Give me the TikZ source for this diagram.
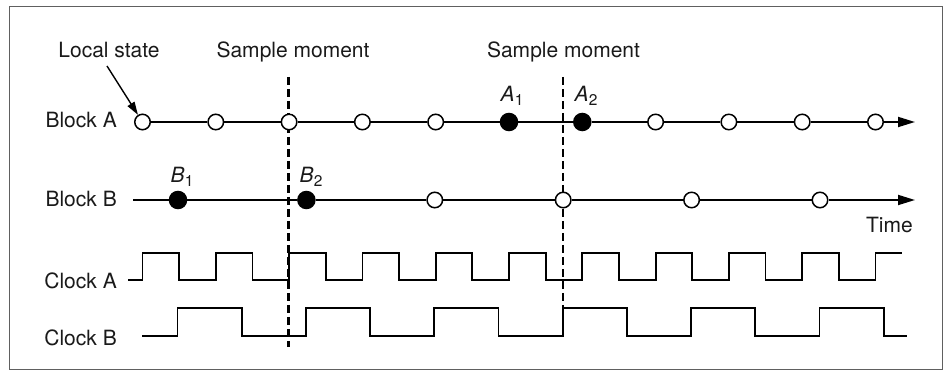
\documentclass[tikz,border=0pt]{standalone}
\usepackage{fontspec}
\setmainfont{TeX Gyre Heros}
\usetikzlibrary{arrows.meta}
\definecolor{inkgray}{HTML}{1A1A1A}
\definecolor{framegray}{HTML}{606060}
% italic event name with an upright, lowered index
\newcommand{\evname}[2]{\textit{#1}\kern0.3pt\raisebox{-4pt}{\fontsize{15.5}{16}\selectfont #2}}
\begin{document}
\begin{tikzpicture}[x=1pt,y=-1pt,
  lbl/.style={inner sep=0pt, font=\fontsize{21}{25}\selectfont, text=inkgray},
  evt/.style={circle, draw=black, line width=1.5pt, fill=white, minimum size=15.5pt, inner sep=0pt},
  evtfull/.style={evt, fill=black, minimum size=17pt},
  timeline/.style={line width=1.8pt},
  sample/.style={line width=2.6pt, dash pattern=on 8pt off 4pt},
  wave/.style={line width=1.8pt, line join=miter},
  tip/.style={-{Triangle[length=17pt,width=10pt]}},
  pointer/.style={line width=1.4pt, -{Triangle[length=13pt,width=8pt]}}
]
\useasboundingbox (0,0) rectangle (945,371);
\fill[white] (0,0) rectangle (945,371);
\draw[framegray, line width=1pt] (9,7) rectangle (942,369);

% sampling instants
\coordinate (s1top) at (288.5,77);
\coordinate (s1bot) at (288.5,347);
\coordinate (s2top) at (563,77);
\coordinate (s2bot) at (563,339);
\draw[sample] (s1top) -- (s1bot);
\draw[sample] (s2top) -- (s2bot);
\node[lbl, anchor=base] (smp1) at (293,58) {Sample moment};
\node[lbl, anchor=base] (smp2) at (563.5,58) {Sample moment};

% block A events
\foreach \k/\s in {0/evt,1/evt,2/evt,3/evt,4/evt,5/evtfull,6/evtfull,7/evt,8/evt,9/evt,10/evt}
  \node[\s] (a\k) at ({142.5+73.3*\k},122) {};
\coordinate (aend) at (915,122);
\foreach \k [evaluate=\k as \n using int(\k+1)] in {0,...,9}
  \draw[timeline] (a\k) -- (a\n);
\draw[timeline, tip] (a10) -- (aend);

% block B events
\coordinate (bstart) at (133,200);
\foreach \k/\s in {0/evtfull,1/evtfull,2/evt,3/evt,4/evt,5/evt}
  \node[\s] (b\k) at ({178+128.4*\k},200) {};
\coordinate (bend) at (915,200);
\draw[timeline] (bstart) -- (b0);
\foreach \k [evaluate=\k as \n using int(\k+1)] in {0,...,4}
  \draw[timeline] (b\k) -- (b\n);
\draw[timeline, tip] (b5) -- (bend);

% row labels
\node[lbl, anchor=base east] (rowa) at (117,128) {Block A};
\node[lbl, anchor=base east] (rowb) at (117,207) {Block B};
\node[lbl, anchor=base east] (rowca) at (117,289) {Clock A};
\node[lbl, anchor=base east] (rowcb) at (117,345) {Clock B};
\node[lbl, anchor=base east] (time) at (913,233) {Time};

% event names
\node[lbl, anchor=base] (na1) at (512,102) {\evname{A}{1}};
\node[lbl, anchor=base] (na2) at (586,102) {\evname{A}{2}};
\node[lbl, anchor=base] (nb1) at (182,183) {\evname{B}{1}};
\node[lbl, anchor=base] (nb2) at (311,183) {\evname{B}{2}};

% local state callout
\node[lbl, anchor=base] (local) at (109,58) {Local state};
\coordinate (lstail) at (107,66);
\draw[pointer] (lstail) -- (a0);

% clock A: period 73.3
\draw[wave] (128,280)
  foreach \k in {0,...,9} { -- ({142.5+73.3*\k},280) -- ++(0,-27) -- ++(36.65,0) -- ++(0,27) }
  -- (875.5,280) -- (875.5,253) -- (902,253);

% clock B: period 128.4
\draw[wave] (142,336)
  foreach \k in {0,...,5} { -- ({177.5+128.4*\k},336) -- ++(0,-28) -- ++(64.2,0) -- ++(0,28) }
  -- (907,336);
\end{tikzpicture}
\end{document}
